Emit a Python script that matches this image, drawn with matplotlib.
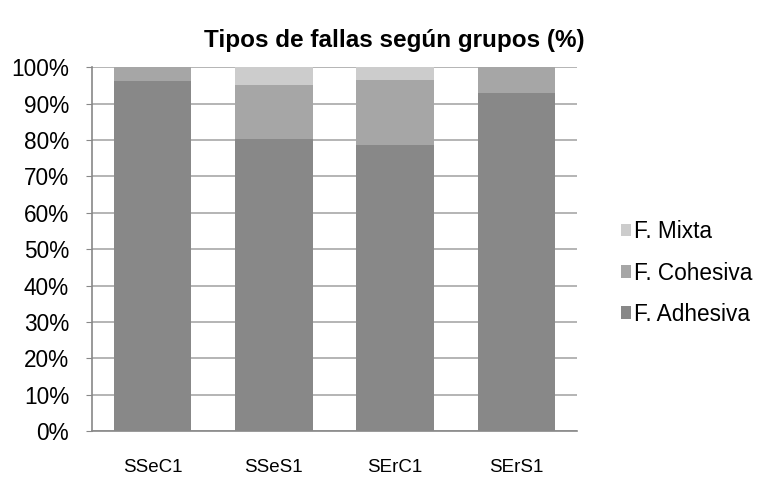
import matplotlib
matplotlib.use("Agg")
import matplotlib.pyplot as plt
import numpy as np

plt.rcParams['font.family'] = ['Liberation Sans', 'DejaVu Sans']

categories = ["SSeC1", "SSeS1", "SErC1", "SErS1"]
adhesiva = [96.1, 80.3, 78.7, 92.9]
cohesiva = [3.9, 14.8, 17.9, 7.1]
mixta = [0.0, 4.9, 3.4, 0.0]
yticks = [0, 10, 20, 30, 40, 50, 60, 70, 80, 90, 100]
ytick_labels = [f"{v}%" for v in yticks]

fig = plt.figure(figsize=(7.63, 4.79), dpi=100)
ax = fig.add_axes([92/763, 1-431/479, (577-92)/763, (431-67.3)/479])

x = np.arange(len(categories))
w = 0.64
ax.bar(x, adhesiva, w, color="#888888", label="F. Adhesiva", zorder=3)
ax.bar(x, cohesiva, w, bottom=adhesiva, color="#a6a6a6", label="F. Cohesiva", zorder=3)
bot2 = [a + c for a, c in zip(adhesiva, cohesiva)]
ax.bar(x, mixta, w, bottom=bot2, color="#cccccc", label="F. Mixta", zorder=3)

ax.set_xlim(-0.5, len(categories) - 0.5)
ax.set_ylim(0, 100)
ax.set_yticks(yticks)
ax.set_yticklabels(ytick_labels, fontsize=16.3)
ax.set_xticks(x)
ax.set_xticklabels(categories, fontsize=13.5)
ax.tick_params(axis='y', length=4, color="#888888", pad=12.5, direction='out')
ax.tick_params(axis='x', length=0, pad=20)
ax.yaxis.grid(True, color="#a8a8a8", linewidth=1.2, zorder=0)
ax.set_axisbelow(True)
for s in ["top", "right"]:
    ax.spines[s].set_visible(False)
for s in ["left", "bottom"]:
    ax.spines[s].set_color("#888888")
    ax.spines[s].set_linewidth(1.2)

fig.text(394/763, 1-40/479, "Tipos de fallas según grupos (%)", ha="center", va="center",
         fontsize=17.5, fontweight="bold")

h, l = ax.get_legend_handles_labels()
fig.legend(h[::-1], l[::-1], loc="center left", bbox_to_anchor=(612/763, 1-273/479),
           frameon=False, fontsize=16.3, handlelength=0.45, handleheight=0.45,
           handletextpad=0.1, labelspacing=0.8, borderaxespad=0)

fig.savefig("out.png", dpi=100)
